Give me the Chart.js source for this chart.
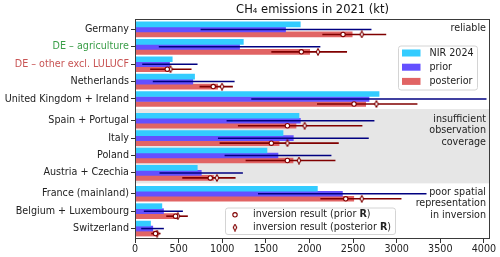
<!DOCTYPE html>
<html>
<head>
<meta charset="utf-8">
<script src="https://cdn.jsdelivr.net/npm/chart.js@4"></script>
<style>
  html, body { margin: 0; padding: 0; background: #fff; }
</style>
</head>
<body>
<canvas id="chart" width="500" height="257"></canvas>
<script>
// categories and their positions on the y axis (gaps between the three groups)
const regions = ['Germany', 'DE – agriculture', 'DE – other excl. LULUCF', 'Netherlands',
  'United Kingdom + Ireland', 'Spain + Portugal', 'Italy', 'Poland', 'Austria + Czechia',
  'France (mainland)', 'Belgium + Luxembourg', 'Switzerland'];
const rowPos = [0, 1, 2, 3, 4, 5.25, 6.25, 7.25, 8.25, 9.45, 10.45, 11.45];

// emissions in kt
const nir = [1895, 1242, 427, 683, 2798, 1880, 1697, 1513, 714, 2091, 308, 178];
const prior = [1726, 1199, 396, 663, 2683, 1896, 1815, 1639, 760, 2378, 327, 204];
const posterior = [2490, 2003, 388, 947, 2645, 1846, 1652, 1812, 900, 2508, 478, 245];
const priorLo = [752, 273, 83, 204, 1333, 1050, 951, 1027, 281, 1410, 101, 71];
const priorHi = [2711, 2125, 717, 1142, 4030, 2745, 2680, 2252, 1237, 3342, 549, 331];
const postLo = [2148, 1563, 174, 740, 2087, 1180, 970, 1268, 542, 2125, 358, 186];
const postHi = [2880, 2431, 648, 1122, 3238, 2607, 2336, 2298, 1153, 3055, 606, 293];
const invPriorR = [2385, 1907, 370, 897, 2511, 1747, 1563, 1747, 863, 2416, 465, 235];
const invPostR = [2600, 2098, 407, 998, 2768, 1945, 1747, 1880, 939, 2600, 491, 254];

const xTicks = [0, 500, 1000, 1500, 2000, 2500, 3000, 3500, 4000];
const bandFrom = 4.58, bandTo = 8.85;   // grey "insufficient coverage" band, in row units
const notes = [
  { row: 0, lines: ['reliable'] },
  { row: 5, lines: ['insufficient', 'observation', 'coverage'] },
  { row: 9, lines: ['poor spatial', 'representation', 'in inversion'] }
];

const FONT = 'DejaVu Sans';
const labelColors = regions.map((r, i) => i === 1 ? '#3a9e48' : i === 2 ? '#c85454' : '#222');
const DARKRED = '#800000';
const postShift = 0.2875; // posterior bar sits one bar below the row centre

function diamond() {
  const c = document.createElement('canvas');
  c.width = 6; c.height = 8;
  const g = c.getContext('2d');
  g.beginPath();
  g.moveTo(3, 0.8); g.lineTo(4.8, 4); g.lineTo(3, 7.2); g.lineTo(1.2, 4);
  g.closePath();
  g.fillStyle = '#fff'; g.fill();
  g.strokeStyle = DARKRED; g.lineWidth = 1.1; g.stroke();
  return c;
}
const diamondImg = diamond();

const pts = (vals, shift) => vals.map((v, i) => ({ x: v, y: rowPos[i] + shift }));
const ranges = (lo, hi, shift) => lo.map((v, i) => ({ x: [v, hi[i]], y: rowPos[i] + shift }));

const decor = {
  id: 'decor',
  beforeDatasetsDraw(chart) {
    const { ctx, chartArea: a, scales: { y } } = chart;
    const y0 = y.getPixelForValue(bandFrom), y1 = y.getPixelForValue(bandTo);
    ctx.save();
    ctx.fillStyle = '#e6e6e6';
    ctx.fillRect(a.left, y0, a.right - a.left, y1 - y0);
    ctx.restore();
  },
  afterDraw(chart) {
    const { ctx, chartArea: a, scales: { y } } = chart;
    ctx.save();
    // frame
    ctx.strokeStyle = '#3a3a3a';
    ctx.lineWidth = 1;
    ctx.strokeRect(a.left + 0.5, a.top + 0.5, a.right - a.left - 1, a.bottom - a.top - 1);

    // title
    ctx.fillStyle = '#111';
    ctx.font = '11.5px "' + FONT + '"';
    ctx.textAlign = 'center';
    ctx.textBaseline = 'middle';
    ctx.fillText('CH₄ emissions in 2021 (kt)', (a.left + a.right) / 2, 10);

    // notes on the right
    ctx.font = '9.6px "' + FONT + '"';
    ctx.textAlign = 'right';
    ctx.fillStyle = '#222';
    notes.forEach(n => {
      const top = y.getPixelForValue(rowPos[n.row]) - 1.2;
      n.lines.forEach((t, k) => ctx.fillText(t, a.right - 4, top + k * 11.3));
    });

    // legend 1
    ctx.textAlign = 'left';
    box(ctx, 398.5, 46, 79, 44);
    [['NIR 2024', '#33ccff'], ['prior', '#6450ff'], ['posterior', '#e16464']].forEach((e, k) => {
      const cy = 53 + k * 14.2;
      ctx.fillStyle = e[1];
      ctx.fillRect(402, cy - 3.5, 18.5, 7);
      ctx.fillStyle = '#222';
      ctx.fillText(e[0], 429.5, cy);
    });

    // legend 2
    box(ctx, 225.5, 208, 170, 26.5);
    const rows = [['inversion result (prior ', 214.8, 'c'], ['inversion result (posterior ', 227.5, 'd']];
    rows.forEach(r => {
      if (r[2] === 'c') {
        ctx.beginPath();
        ctx.arc(235, r[1], 2.2, 0, Math.PI * 2);
        ctx.fillStyle = '#fff'; ctx.fill();
        ctx.strokeStyle = DARKRED; ctx.lineWidth = 1.1; ctx.stroke();
      } else {
        ctx.drawImage(diamondImg, 235 - 3, r[1] - 4);
      }
      ctx.fillStyle = '#222';
      ctx.font = '9.6px "' + FONT + '"';
      ctx.fillText(r[0], 253, r[1]);
      let w = ctx.measureText(r[0]).width;
      ctx.font = 'bold 9.6px "' + FONT + '"';
      ctx.fillText('R', 253 + w, r[1]);
      const wr = ctx.measureText('R').width;
      ctx.font = '9.6px "' + FONT + '"';
      ctx.fillText(')', 253 + w + wr, r[1]);
    });
    ctx.restore();
  }
};

function box(ctx, x, y, w, h) {
  ctx.save();
  ctx.beginPath();
  ctx.roundRect(x, y, w, h, 2.5);
  ctx.fillStyle = 'rgba(255,255,255,0.85)';
  ctx.fill();
  ctx.strokeStyle = '#d4d4d4';
  ctx.lineWidth = 1;
  ctx.stroke();
  ctx.restore();
}

new Chart(document.getElementById('chart'), {
  type: 'bar',
  data: {
    datasets: [
      { label: 'NIR 2024', data: pts(nir, 0), backgroundColor: '#33ccff', barThickness: 5, order: 5 },
      { label: 'prior', data: pts(prior, 0), backgroundColor: '#6450ff', barThickness: 5, order: 5 },
      { label: 'posterior', data: pts(posterior, 0), backgroundColor: '#e16464', barThickness: 5, order: 5 },
      { label: 'prior range', data: ranges(priorLo, priorHi, 0), backgroundColor: '#000080',
        grouped: false, maxBarThickness: 1.5, order: 2 },
      { label: 'posterior range', data: ranges(postLo, postHi, postShift), backgroundColor: DARKRED,
        grouped: false, maxBarThickness: 1.6, order: 1 },
      { type: 'scatter', label: 'inversion result (prior R)', data: pts(invPriorR, postShift),
        pointStyle: 'circle', pointRadius: 2.2, pointBorderWidth: 1.1,
        pointBorderColor: DARKRED, pointBackgroundColor: '#fff', order: 0 },
      { type: 'scatter', label: 'inversion result (posterior R)', data: pts(invPostR, postShift),
        pointStyle: diamondImg, pointRadius: 3, order: 0 }
    ]
  },
  options: {
    indexAxis: 'y',
    responsive: false,
    devicePixelRatio: 1,
    animation: false,
    events: [],
    layout: { padding: { top: 19, right: 10, left: 0, bottom: 0 } },
    scales: {
      x: {
        type: 'linear',
        min: 0,
        max: 4070,
        afterBuildTicks: s => { s.ticks = xTicks.map(v => ({ value: v })); },
        afterFit: s => { s.height = 18; },
        ticks: {
          font: { family: FONT, size: 9.6 },
          color: '#222',
          padding: 1,
          maxRotation: 0,
          callback: v => String(v)
        },
        grid: { drawOnChartArea: false, tickLength: 4, tickColor: '#333' },
        border: { display: false }
      },
      y: {
        type: 'linear',
        reverse: true,
        min: -0.6,
        max: 12.05,
        offset: false,
        afterBuildTicks: s => { s.ticks = rowPos.map(v => ({ value: v })); },
        afterFit: s => { s.width = 135; },
        ticks: {
          autoSkip: false,
          callback: (v, i) => regions[i],
          color: ctx => labelColors[ctx.index],
          font: { family: FONT, size: 9.6 },
          padding: 2
        },
        grid: { offset: false, drawOnChartArea: false, tickLength: 4, tickColor: '#333' },
        border: { display: false }
      }
    },
    plugins: {
      legend: { display: false },
      title: { display: false },
      tooltip: { enabled: false }
    }
  },
  plugins: [decor]
});
</script>
</body>
</html>
